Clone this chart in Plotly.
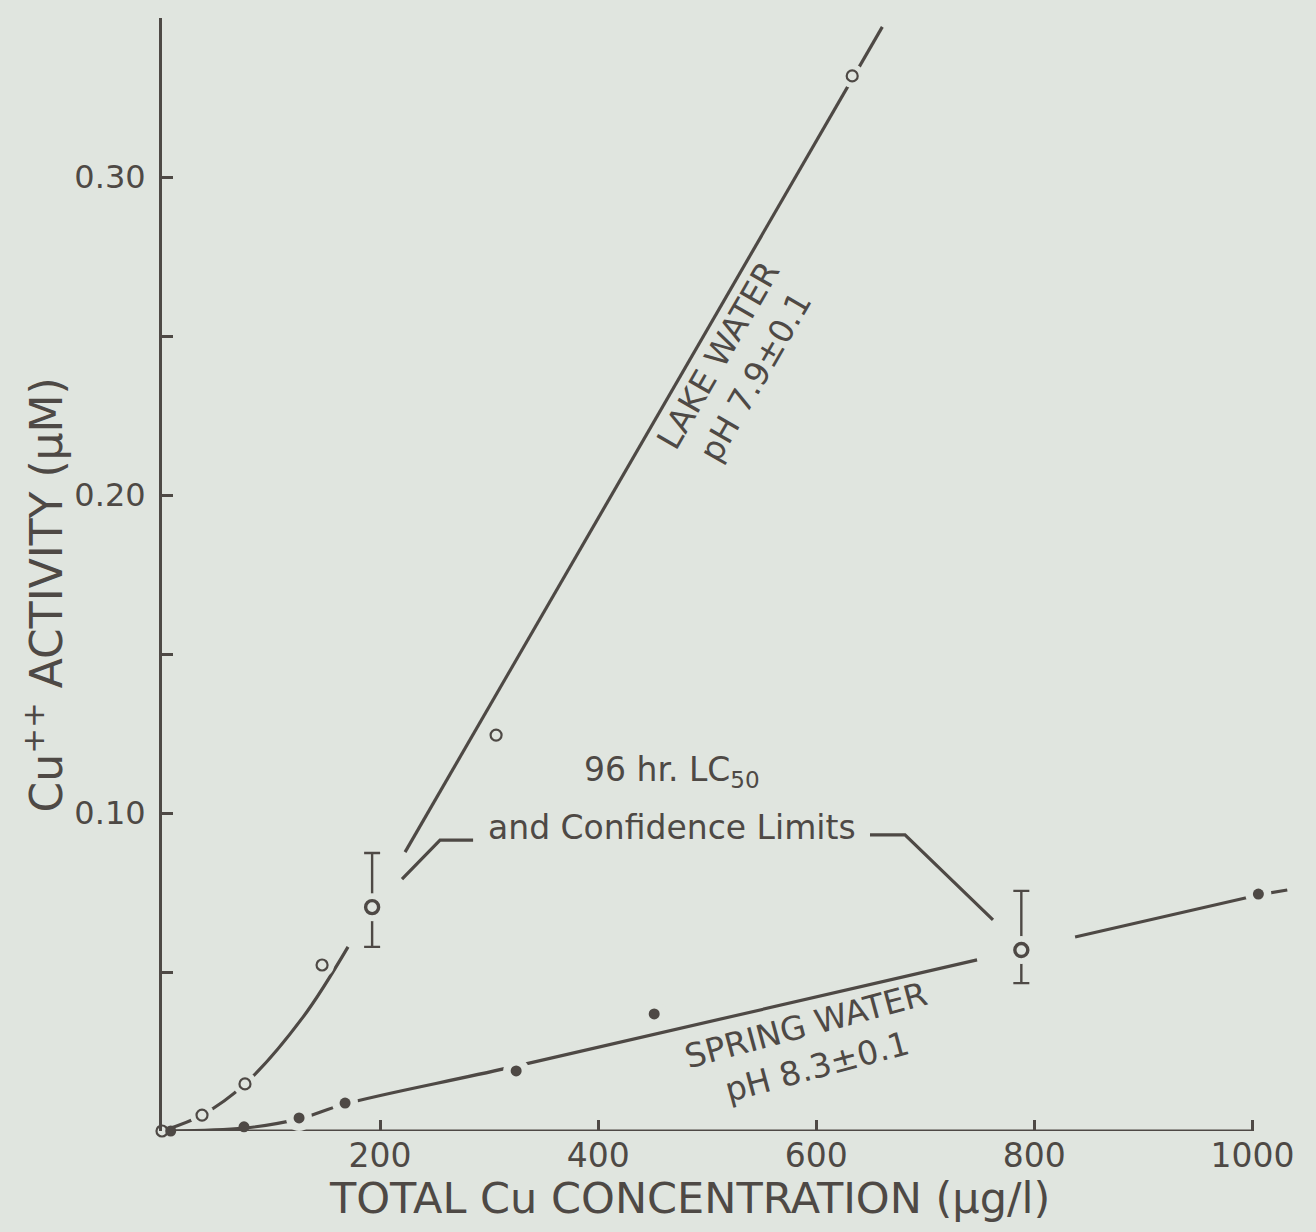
import plotly.graph_objects as go

# ---- colours / fonts -------------------------------------------------------
BG = "#e0e5df"
INK = "#4e4945"
FONT = "DejaVu Sans"

# ---- measured data ---------------------------------------------------------
# Lake water (pH 7.9 +/- 0.1), open circles
lake_x = [0.0, 36.7, 76.1, 146.8, 306.4, 633.0]
lake_y = [0.0, 0.0050, 0.0148, 0.0522, 0.1245, 0.3318]

# Spring water (pH 8.3 +/- 0.1), filled circles
spring_x = [8.0, 75.2, 125.7, 167.9, 324.8, 451.4, 1005.5]
spring_y = [0.0, 0.0013, 0.0041, 0.0088, 0.0189, 0.0368, 0.0745]

# 96 hr LC50 with confidence limits
lc50_x = [192.7, 788.1]
lc50_y = [0.0704, 0.0569]
lc50_upper = [0.0874, 0.0755]
lc50_lower = [0.0579, 0.0465]

# Fitted curves as drawn
lake_curve_x = [0.0, 36.7, 76.1, 129.3, 170.6]
lake_curve_y = [0.0, 0.0050, 0.0148, 0.0358, 0.0579]
lake_line_x = [222.9, 660.6]
lake_line_y = [0.0877, 0.3472]

spring_line_a_x = [8.0, 75.2, 125.7, 167.9, 324.8, 747.5]
spring_line_a_y = [0.0, 0.0009, 0.0038, 0.0085, 0.0204, 0.0538]
spring_line_b_x = [837.4, 1005.5, 1032.0]
spring_line_b_y = [0.0610, 0.0742, 0.0758]

# Axis ticks
x_tickvals = [200, 400, 600, 800, 1000]
x_ticktext = ["200", "400", "600", "800", "1000"]
y_tickvals = [0.10, 0.20, 0.30]
y_ticktext = ["0.10", "0.20", "0.30"]
y_minor_tickvals = [0.05, 0.15, 0.25, 0.35]

fig = go.Figure()


def line(xs, ys, shape="linear", width=3.2):
    fig.add_trace(go.Scatter(
        x=xs, y=ys, mode="lines", hoverinfo="skip", showlegend=False,
        line=dict(color=INK, width=width, shape=shape, smoothing=1.0),
    ))


# fitted curves
line(lake_curve_x, lake_curve_y, shape="spline")
line(lake_line_x, lake_line_y)
line(spring_line_a_x, spring_line_a_y, shape="spline")
line(spring_line_b_x, spring_line_b_y)

# leader lines from the LC50 label
line([220.1, 255.0, 285.3], [0.0792, 0.0915, 0.0915])
line([649.3, 681.4, 762.1], [0.0931, 0.0931, 0.0664])

# confidence limits
fig.add_trace(go.Scatter(
    x=lc50_x, y=lc50_y, mode="markers", hoverinfo="skip", showlegend=False,
    marker=dict(size=2, color="rgba(0,0,0,0)"),
    error_y=dict(type="data", symmetric=False,
                 array=[u - c for u, c in zip(lc50_upper, lc50_y)],
                 arrayminus=[c - l for l, c in zip(lc50_lower, lc50_y)],
                 color=INK, thickness=2.4, width=8),
))


def halo(xs, ys, size):
    pts = [(a, b) for a, b in zip(xs, ys) if b > 0.002]
    fig.add_trace(go.Scatter(
        x=[p[0] for p in pts], y=[p[1] for p in pts], mode="markers",
        hoverinfo="skip", showlegend=False, cliponaxis=False,
        marker=dict(size=size, color=BG, line=dict(width=0)),
    ))


# clear gaps in the lines around each plotted point
halo(lake_x, lake_y, 24)
halo(spring_x, spring_y, 26)
halo(lc50_x, lc50_y, 28)

fig.add_trace(go.Scatter(
    x=lake_x, y=lake_y, mode="markers", name="Lake water",
    showlegend=False, cliponaxis=False,
    marker=dict(symbol="circle", size=11, color=BG, line=dict(color=INK, width=2.2)),
))
fig.add_trace(go.Scatter(
    x=spring_x, y=spring_y, mode="markers", name="Spring water",
    showlegend=False, cliponaxis=False,
    marker=dict(symbol="circle", size=11, color=INK, line=dict(color=INK, width=0)),
))
fig.add_trace(go.Scatter(
    x=lc50_x, y=lc50_y, mode="markers", name="96 hr. LC50",
    showlegend=False, cliponaxis=False,
    marker=dict(symbol="circle", size=13, color=BG, line=dict(color=INK, width=3.4)),
))

# x axis line (stops at the 1000 tick)
fig.add_shape(type="line", xref="x", yref="y", x0=0, x1=1000, y0=0, y1=0,
              line=dict(color=INK, width=3), layer="below")

annotations = [
    dict(text="LAKE WATER<br>pH 7.9±0.1", x=527.1, y=0.2406, textangle=-60,
         font=dict(size=33)),
    dict(text="SPRING WATER<br>pH 8.3±0.1", x=595.2, y=0.0267, textangle=-15,
         font=dict(size=33)),
    dict(text="96 hr. LC<sub>50</sub>", x=467.7, y=0.1129, font=dict(size=33)),
    dict(text="and Confidence Limits", x=467.7, y=0.0953, font=dict(size=33)),
]
for a in annotations:
    fig.add_annotation(xref="x", yref="y", showarrow=False,
                       xanchor="center", yanchor="middle", **a)

# axis titles
fig.add_annotation(text="TOTAL Cu CONCENTRATION (µg/l)", xref="paper", yref="paper",
                   x=0.4656, y=-0.0602, showarrow=False, xanchor="center",
                   yanchor="middle", font=dict(size=43))
fig.add_annotation(text="Cu<sup>++</sup> ACTIVITY (µM)", xref="paper", yref="paper",
                   x=-0.1045, y=0.4816, showarrow=False, textangle=-90,
                   xanchor="center", yanchor="middle", font=dict(size=44))

fig.update_layout(
    width=1316, height=1232,
    margin=dict(l=162, r=20, t=18, b=101, pad=0),
    paper_bgcolor=BG, plot_bgcolor=BG,
    font=dict(family=FONT, color=INK),
    showlegend=False,
    xaxis=dict(range=[0, 1040], showgrid=False, zeroline=False, showline=False,
               ticks="inside", ticklen=11, tickwidth=3, tickcolor=INK,
               tickvals=x_tickvals, ticktext=x_ticktext,
               tickfont=dict(size=33, color=INK), ticklabelstandoff=2),
    yaxis=dict(range=[0, 0.35], showgrid=False, zeroline=False, showline=True,
               linecolor=INK, linewidth=3,
               ticks="inside", ticklen=11, tickwidth=3, tickcolor=INK,
               tickvals=y_tickvals, ticktext=y_ticktext,
               minor=dict(tickvals=y_minor_tickvals, ticks="inside", ticklen=11,
                          tickwidth=3, tickcolor=INK, showgrid=False),
               tickfont=dict(size=32, color=INK), ticklabelstandoff=7),
)

fig.write_html("out.html")
